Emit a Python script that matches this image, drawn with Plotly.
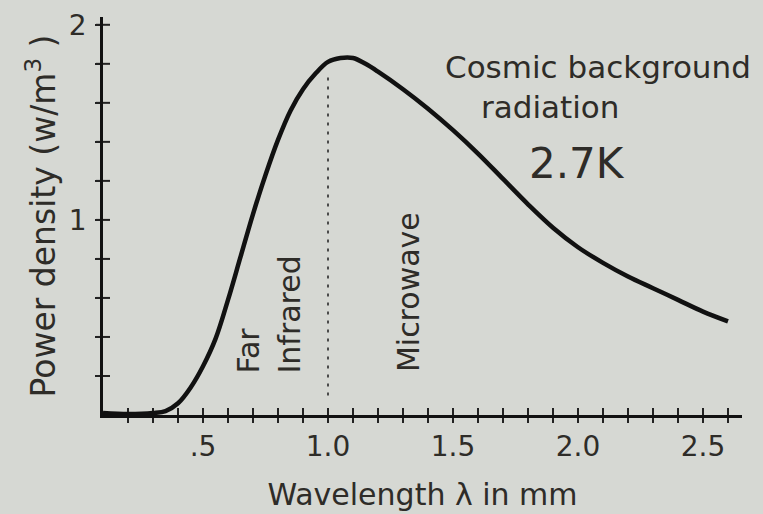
import plotly.graph_objects as go

# ---- data ----
wavelength_mm = [0.10, 0.20, 0.30, 0.35, 0.40, 0.45, 0.50, 0.55, 0.60, 0.65, 0.70, 0.75,
                 0.80, 0.85, 0.90, 0.95, 1.00, 1.05, 1.10, 1.15, 1.20, 1.30, 1.40, 1.50,
                 1.60, 1.70, 1.80, 1.90, 2.00, 2.10, 2.20, 2.30, 2.40, 2.50, 2.60]
power_density = [0.01, 0.005, 0.01, 0.02, 0.06, 0.14, 0.25, 0.39, 0.59, 0.81, 1.03, 1.23,
                 1.41, 1.56, 1.67, 1.75, 1.81, 1.83, 1.83, 1.80, 1.76, 1.67, 1.57, 1.46,
                 1.34, 1.21, 1.08, 0.96, 0.86, 0.78, 0.71, 0.65, 0.59, 0.53, 0.48]

divider_x = [1.0, 1.0]
divider_y = [0.1, 1.75]

x_tick_vals = [0.2, 0.3, 0.4, 0.5, 0.6, 0.7, 0.8, 0.9, 1.0, 1.1, 1.2, 1.3, 1.4, 1.5,
               1.6, 1.7, 1.8, 1.9, 2.0, 2.1, 2.2, 2.3, 2.4, 2.5, 2.6]
x_label_vals = [0.5, 1.0, 1.5, 2.0, 2.5]
x_label_text = [".5", "1.0", "1.5", "2.0", "2.5"]
y_tick_vals = [0.2, 0.4, 0.6, 0.8, 1.0, 1.2, 1.4, 1.6, 1.8, 2.0]
y_label_vals = [1.0, 2.0]
y_label_text = ["1", "2"]

x_title = "Wavelength λ in mm"
y_title = "Power density (w/m<sup>3</sup> )"

BG = "#d6d8d3"
INK = "#2e2c28"
TICK = "#222222"
FONT = "DejaVu Sans"

XR = [0.1, 2.656]
YR = [0.0, 2.04]

fig = go.Figure()
# inner halves of the cross-shaped ticks (outer halves come from the axes)
fig.add_trace(go.Scatter(x=x_tick_vals, y=[YR[0]] * len(x_tick_vals), mode="markers",
                         marker=dict(symbol="line-ns", size=10,
                                     line=dict(color=TICK, width=2)),
                         hoverinfo="skip", showlegend=False, cliponaxis=False))
fig.add_trace(go.Scatter(x=[XR[0]] * len(y_tick_vals), y=y_tick_vals, mode="markers",
                         marker=dict(symbol="line-ew", size=10,
                                     line=dict(color=TICK, width=2)),
                         hoverinfo="skip", showlegend=False, cliponaxis=False))
fig.add_trace(go.Scatter(x=wavelength_mm, y=power_density, mode="lines",
                         line=dict(color="#111111", width=4.5, shape="spline", smoothing=1.0),
                         hoverinfo="skip", showlegend=False, cliponaxis=False))
fig.add_trace(go.Scatter(x=divider_x, y=divider_y, mode="lines",
                         line=dict(color="#4a4a4a", width=2, dash="3px,6px"),
                         hoverinfo="skip", showlegend=False))

axis_common = dict(showgrid=False, zeroline=False, fixedrange=True, automargin=False)

fig.update_layout(
    width=763, height=514,
    margin=dict(l=103, r=21, t=17, b=99),
    paper_bgcolor=BG, plot_bgcolor=BG,
    font=dict(family=FONT, color=INK, size=28),
    xaxis=dict(range=XR, tickmode="array", tickvals=x_label_vals, ticktext=x_label_text,
               ticks="outside", ticklen=5, tickwidth=2, tickcolor=TICK,
               minor=dict(tickmode="array", tickvals=x_tick_vals, ticks="outside",
                          ticklen=5, tickwidth=2, tickcolor=TICK, showgrid=False),
               showline=True, linecolor="#111111", linewidth=2.5,
               ticklabelstandoff=0,
               title=dict(text=x_title, font=dict(size=30), standoff=22),
               **axis_common),
    yaxis=dict(range=YR, tickmode="array", tickvals=y_label_vals, ticktext=y_label_text,
               ticks="outside", ticklen=5, tickwidth=2, tickcolor=TICK,
               minor=dict(tickmode="array", tickvals=y_tick_vals, ticks="outside",
                          ticklen=5, tickwidth=2, tickcolor=TICK, showgrid=False),
               showline=True, linecolor="#111111", linewidth=2.5,
               ticklabelstandoff=3,
               title=dict(text=y_title, font=dict(size=33), standoff=4),
               **axis_common),
)

ann = [
    ("Cosmic background", 2.08, 1.785, 31, 0),
    ("radiation", 1.888, 1.58, 31, 0),
    ("2.7K", 1.996, 1.29, 42, 0),
    ("Far", 0.684, 0.33, 30, -90),
    ("Infrared", 0.848, 0.515, 30, -90),
    ("Microwave", 1.32, 0.63, 30, -90),
]
for text, x, y, size, ang in ann:
    fig.add_annotation(text=text, x=x, y=y, xref="x", yref="y", showarrow=False,
                       xanchor="center", yanchor="middle", textangle=ang,
                       font=dict(size=size, color=INK, family=FONT))

fig.write_html("out.html")
